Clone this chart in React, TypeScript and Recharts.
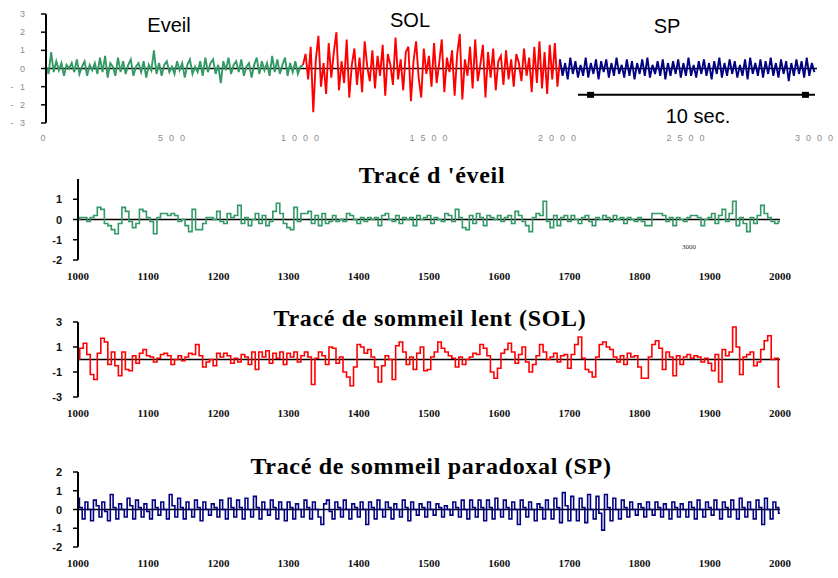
import { LineChart, Line, XAxis, YAxis, ReferenceLine, ReferenceDot } from "recharts";

// ---- overview trace, 0 - 3000 (one value every 10 samples) ----
const overviewTicks = [0, 500, 1000, 1500, 2000, 2500, 3000];
const overviewYTicks = [-3, -2, -1, 0, 1, 2, 3];

const eveilTop = [
    0.1, -0.3, 0.9, -0.2, 0.4, -0.1, 0.3, -0.4, 0.2, 0.0,
    0.3, -0.2, 0.5, -0.3, 0.1, 0.4, -0.4, 0.2, -0.1, 0.3,
    -0.3, 0.6, -0.2, 0.7, -0.5, 0.3, 0.1, -0.4, 0.6, -0.2,
    0.4, -0.3, 0.2, 0.5, -0.4, 0.1, 0.3, -0.2, 0.4, -0.5,
    0.2, -0.1, 1.0, -0.3, 0.3, -0.4, 0.2, 0.4, -0.2, 0.1,
    -0.3, 0.4, -0.1, 0.3, -0.5, 0.2, 0.5, -0.3, 0.1, -0.2,
    0.4, -0.4, 0.6, -0.2, 0.3, 0.5, -0.3, 0.2, -0.8, 0.4,
    -0.1, 0.6, -0.3, 0.2, 0.4, -0.2, 0.5, -0.4, 0.1, 0.3,
    -0.5, 0.2, 0.6, -0.3, 0.4, -0.1, 0.3, -0.4, 0.7, -0.2,
    0.5, -0.3, 0.2, 0.6, -0.4, 0.3, -0.2, 0.4, -0.3, 0.1,
];

const solTop = [
    0.2, 0.8, -0.6, 1.2, -2.4, 0.5, 1.8, -1.0, 0.3, -1.4,
    1.4, -0.5, 0.9, 2.0, -1.2, 0.4, -0.8, 1.6, -1.6, 0.2,
    1.1, -0.9, 0.6, -1.3, 1.5, 0.1, -0.7, 1.0, -1.1, 0.7,
    -0.4, 1.3, -1.5, 0.8, 0.2, -0.9, 1.7, -0.6, 0.5, -1.2,
    0.9, 1.2, -1.8, 0.4, 1.5, -0.5, -1.6, 1.1, -0.3, 0.7,
    -1.0, 1.4, -0.8, 0.3, 1.6, -1.3, 0.6, -0.2, 1.0, -1.5,
    0.8, 1.9, -1.7, 0.5, -0.4, 1.2, -1.1, 1.6, -0.7, 0.2,
    1.3, -1.6, 0.9, -0.5, 1.1, -1.2, 0.4, 0.7, -0.9, 1.0,
    -0.6, 0.5, -1.0, 0.8, 0.3, -0.7, 1.1, -0.4, 0.6, -1.3,
    1.2, -0.8, 1.5, -1.1, 0.9, -1.4, 1.3, -0.6, 1.4, -1.0,
];

const spTop = [
    0.5, -0.4, 0.3, -0.6, 0.6, -0.3, 0.4, -0.5, 0.2, -0.4,
    0.6, -0.5, 0.3, -0.3, 0.5, -0.6, 0.4, -0.2, 0.5, -0.5,
    0.3, -0.4, 0.6, -0.3, 0.2, -0.5, 0.5, -0.4, 0.4, -0.6,
    0.3, -0.3, 0.5, -0.4, 0.6, -0.5, 0.2, -0.3, 0.4, -0.4,
    0.5, -0.6, 0.3, -0.4, 0.4, -0.3, 0.5, -0.5, 0.3, -0.4,
    0.6, -0.4, 0.2, -0.5, 0.4, -0.3, 0.5, -0.4, 0.3, -0.6,
    0.4, -0.3, 0.6, -0.5, 0.3, -0.4, 0.5, -0.3, 0.4, -0.5,
    0.2, -0.4, 0.5, -0.6, 0.6, -0.3, 0.3, -0.4, 0.5, -0.5,
    0.4, -0.3, 0.6, -0.4, 0.3, -0.5, 0.5, -0.3, 0.4, -0.7,
    0.3, -0.4, 0.5, -0.3, 0.4, -0.5, 0.6, -0.4, 0.3, -0.2,
];

// "10 sec." scale bar, in data units of the overview
const scaleBarY = -1.45;
const scaleBarFrom = 2070;
const scaleBarTo = 2992;
const scaleBarEnds = [2117, 2953];

// ---- zoomed traces, 1000 - 2000 ----
const zoomTicks = [1000, 1100, 1200, 1300, 1400, 1500, 1600, 1700, 1800, 1900, 2000];

// every 5 samples
const eveilZoom = [
    0.0, 0.1, 0.1, -0.1, 0.1, 0.2, 0.6, 0.5, -0.2, -0.3,
    -0.5, -0.7, -0.2, 0.6, 0.4, -0.1, -0.4, -0.2, 0.5, 0.4,
    0.1, -0.1, -0.7, 0.1, 0.3, 0.3, 0.2, 0.3, 0.2, -0.1,
    0.0, -0.3, -0.6, 0.5, -0.5, -0.5, -0.2, 0.1, 0.1, 0.0,
    0.4, -0.1, -0.2, 0.3, 0.1, 0.2, 0.7, -0.2, 0.1, -0.3,
    0.0, 0.3, -0.2, 0.2, -0.3, -0.1, 0.4, 0.8, 0.3, -0.2,
    -0.4, -0.5, 0.6, -0.1, 0.3, 0.3, 0.4, -0.2, 0.2, -0.3,
    0.3, -0.2, -0.1, 0.2, -0.1, 0.0, -0.1, 0.3, 0.2, 0.0,
    -0.2, 0.1, -0.1, 0.1, 0.0, 0.1, -0.3, 0.2, 0.3, 0.0,
    -0.1, 0.2, -0.2, 0.1, 0.0, 0.1, -0.3, 0.2, 0.0, 0.1,
    0.2, -0.2, 0.1, 0.0, -0.1, 0.3, 0.2, -0.1, 0.5, 0.1,
    -0.4, -0.5, 0.2, -0.2, 0.3, 0.1, -0.3, 0.2, 0.1, 0.0,
    0.2, -0.1, 0.1, 0.2, -0.2, 0.4, 0.2, -0.1, -0.3, -0.6,
    0.1, 0.3, 0.2, 0.9, -0.1, -0.4, 0.2, -0.3, 0.1, 0.2,
    -0.1, 0.2, 0.0, -0.2, 0.1, 0.2, -0.1, -0.3, 0.1, 0.0,
    0.2, 0.1, -0.1, 0.2, 0.0, 0.1, -0.2, 0.1, 0.0, -0.1,
    0.1, -0.1, -0.3, -0.3, 0.3, 0.3, 0.3, 0.2, -0.1, 0.1,
    -0.3, 0.1, 0.0, -0.1, 0.1, 0.2, 0.2, 0.1, -0.3, 0.0,
    0.1, 0.3, -0.2, 0.2, 0.5, -0.1, 0.3, 0.9, -0.3, 0.1,
    -0.2, -0.6, 0.1, -0.2, 0.2, 0.7, 0.3, 0.1, -0.1, -0.2,
    -0.1,
];

// every 5 samples
const solZoom = [
    0.0, 0.9, 1.3, 0.4, -1.2, -1.6, 0.5, 1.7, 1.4, -0.4,
    0.6, -0.5, -1.3, 0.6, -0.8, -0.9, 0.3, -0.3, 0.5, 0.8,
    0.3, 0.2, -0.2, 0.1, 0.4, 0.5, 0.3, -0.4, 0.0, 0.3,
    -0.1, 0.2, 0.5, 0.4, 1.2, 0.3, -0.6, -0.2, 0.0, -0.5,
    0.5, 0.2, 0.5, 0.3, -0.3, 0.1, -0.2, 0.4, 0.2, -0.4,
    0.6, -0.8, 0.6, 0.2, 0.7, -0.3, 0.5, 0.1, 0.6, -0.4,
    0.5, 0.2, 0.6, -0.2, 0.3, 0.6, 0.2, -2.0, 0.1, 0.6,
    0.3, -0.4, 1.0, 0.9, -0.3, 0.2, -1.0, -1.4, -2.1, -0.6,
    1.2, 1.0, 0.5, 0.8, 0.2, -0.6, -1.8, -0.5, 0.3, 0.0,
    -1.6, 1.1, 1.4, 0.6, -0.4, 0.2, -0.8, 0.5, 1.0, -0.9,
    -0.8, 0.2, 0.6, 1.4, 0.9, 0.6, 0.3, 0.1, -0.6, 0.2,
    -0.4, 0.0, 0.2, 0.5, 0.4, 1.2, 0.9, 0.3, -1.0, -1.5,
    -0.7, 0.5, 0.8, 1.3, 0.6, -0.3, 0.4, 1.0, -0.2, -1.0,
    -0.4, 0.3, 1.2, 0.6, 0.0, 0.2, 0.5, -0.2, 0.3, 0.4,
    -0.7, 0.4, 1.2, 1.8, 0.1, -0.8, -1.0, -1.4, 0.2, 1.2,
    1.4, 1.0, 0.8, 0.2, -0.2, 0.3, -0.4, 0.5, 0.2, 0.3,
    -0.6, -1.5, -1.5, 0.2, 1.2, 1.5, 0.9, -0.8, 0.6, 0.2,
    -1.3, 0.3, -0.4, 0.2, 0.4, 0.1, 0.3, 0.2, -0.2, 0.1,
    -0.3, -0.9, 0.4, -1.8, 0.8, 0.3, 0.6, 2.6, 1.0, -1.2,
    0.2, 0.4, 0.6, -0.5, -0.2, 0.8, 1.5, 1.9, 0.0, 0.1,
    -2.2,
];

// every 4 samples
const spZoom = [
    0.6, 0.1, -0.5, 0.4, 0.0, -0.6, 0.5, 0.2, -0.4, 0.4, -0.1, -0.6,
    0.8, 0.1, -0.5, 0.3, 0.0, -0.4, 0.6, 0.2, -0.5, 0.5, 0.1, -0.4,
    0.3, -0.1, -0.5, 0.5, 0.1, -0.3, 0.4, 0.0, -0.5, 0.8, 0.2, -0.4,
    0.6, 0.1, -0.5, 0.4, 0.0, -0.4, 0.5, 0.1, -0.6, 0.4, 0.0, -0.3,
    0.3, 0.1, -0.4, 0.5, 0.0, -0.5, 0.6, 0.1, -0.4, 0.5, 0.1, -0.5,
    0.6, 0.0, -0.4, 0.7, 0.1, -0.5, 0.4, 0.0, -0.3, 0.5, 0.1, -0.5,
    0.4, 0.0, -0.6, 0.4, 0.1, -0.5, 0.3, 0.0, -0.4, 0.5, 0.1, -0.5,
    0.4, 0.0, -0.4, -0.8, 0.3, 0.5, -0.1, -0.5, 0.4, 0.1, -0.4, 0.5,
    0.0, -0.5, 0.3, 0.1, -0.4, 0.4, 0.0, -0.8, 0.4, 0.1, -0.5, 0.5,
    0.0, -0.4, 0.4, 0.1, -0.5, 0.3, 0.0, -0.4, 0.5, 0.1, -0.6, 0.4,
    0.0, -0.3, 0.3, 0.1, -0.4, 0.4, 0.0, -0.3, 0.3, 0.1, -0.4, 0.2,
    0.0, -0.3, 0.4, 0.1, -0.4, 0.5, 0.0, -0.5, 0.5, 0.1, -0.4, 0.5,
    0.1, -0.6, 0.5, 0.1, -0.5, 0.6, 0.0, -0.4, 0.5, 0.1, -0.5, 0.4,
    0.0, -0.8, 0.5, 0.1, -0.4, 0.4, 0.0, -0.6, 0.3, 0.1, -0.5, 0.5,
    0.0, -0.5, 0.6, 0.1, -0.7, 0.9, 0.2, -0.6, 0.7, 0.0, -0.6, 0.6,
    0.1, -0.7, 0.8, 0.0, -0.5, 0.7, -0.2, -1.1, 0.8, 0.1, -0.6, 0.6,
    0.0, -0.5, 0.5, 0.1, -0.4, 0.4, 0.0, -0.3, 0.3, 0.1, -0.4, 0.4,
    0.0, -0.3, 0.4, 0.1, -0.4, 0.3, 0.0, -0.5, 0.4, 0.1, -0.4, 0.3,
    0.0, -0.4, 0.4, 0.1, -0.5, 0.5, 0.0, -0.4, 0.4, 0.1, -0.3, 0.5,
    0.0, -0.5, 0.4, 0.1, -0.4, 0.5, 0.0, -0.5, 0.6, 0.1, -0.4, 0.4,
    0.0, -0.5, 0.5, 0.1, -0.8, 0.6, 0.0, -0.5, 0.4, 0.1, -0.2,
];

const GREEN = "#339966";
const RED = "#ff0000";
const NAVY = "#000080";

// overview rows; first point of the next stage is repeated so the trace is continuous
const overviewData = [
    ...eveilTop.map((v, i) => ({ x: i * 10, eveil: v })),
    ...solTop.map((v, i) => (i === 0 ? { x: 1000, sol: v, eveil: v } : { x: 1000 + i * 10, sol: v })),
    ...spTop.map((v, i) => (i === 0 ? { x: 2000, sp: v, sol: v } : { x: 2000 + i * 10, sp: v })),
];

const toRows = (values: number[], step: number) => values.map((v, i) => ({ x: 1000 + i * step, v }));

const OverviewXTick = ({ x, y, payload }: any) => (
    <text x={x} y={y} dy={7} textAnchor="middle" fontSize={9} fill="#8c8c8c"
        fontFamily="Liberation Sans, Arial" style={{ letterSpacing: 6 }}>
        {payload.value}
    </text>
);

const OverviewYTick = ({ x, y, payload }: any) => (
    <text x={x} y={y} dy={3} textAnchor="end" fontSize={9} fill="#8c8c8c"
        fontFamily="Liberation Sans, Arial" style={{ letterSpacing: 2 }}>
        {payload.value < 0 ? `- ${-payload.value}` : payload.value}
    </text>
);

const ZoomXTick = ({ x, y, payload }: any) => (
    <text x={x} y={y} dy={8} textAnchor="middle" fontSize={11} fontWeight="bold" fill="#111"
        fontFamily="Liberation Serif, serif">
        {payload.value}
    </text>
);

const ZoomYTick = ({ x, y, payload }: any) => (
    <text x={x} y={y} dy={4} textAnchor="end" fontSize={11} fontWeight="bold" fill="#111"
        fontFamily="Liberation Sans, Arial">
        {payload.value}
    </text>
);

const ScaleEnd = ({ cx, cy }: any) => <rect x={cx - 3} y={cy - 3} width={7} height={6} fill="#000" />;

interface PanelProps {
    plotTop: number;
    plotHeight: number;
    data: { x: number; v: number }[];
    color: string;
    domain: [number, number];
    yTicks: number[];
}

function TracePanel({ plotTop, plotHeight, data, color, domain, yTicks }: PanelProps) {
    const marginTop = 20;
    return (
        <div style={{ position: "absolute", left: 0, top: plotTop - marginTop }}>
            <LineChart width={838} height={plotHeight + marginTop + 30} data={data}
                margin={{ top: marginTop, right: 58, left: 0, bottom: 0 }}>
                <XAxis dataKey="x" type="number" domain={[1000, 2000]} ticks={zoomTicks} interval={0}
                    axisLine={false} tickLine={false} height={30} tickSize={6} tickMargin={6} tick={<ZoomXTick />} />
                <YAxis type="number" domain={domain} ticks={yTicks} interval={0} width={78}
                    axisLine={{ stroke: "#000", strokeWidth: 2 }} tickLine={{ stroke: "#000", strokeWidth: 1.5 }}
                    tickSize={5} tickMargin={11} tick={<ZoomYTick />} />
                <ReferenceLine y={0} stroke="#000" strokeWidth={1.5} />
                <Line type="step" dataKey="v" stroke={color} strokeWidth={1.6} dot={false} isAnimationActive={false} />
            </LineChart>
        </div>
    );
}

const titleFont = { fontFamily: "Liberation Serif, Times New Roman, serif", fontWeight: "bold", fontSize: 24, letterSpacing: 0.7 } as const;
const labelFont = { fontFamily: "Liberation Sans, Arial, sans-serif", fontSize: 20 } as const;

export default function App() {
    return (
        <div style={{ position: "absolute", left: 0, top: 0, width: 838, height: 578, background: "#fff" }}>
            <div style={{ position: "absolute", left: 0, top: 0 }}>
                <LineChart width={838} height={150} data={overviewData} margin={{ top: 14, right: 21, left: 0, bottom: 0 }}>
                    <XAxis dataKey="x" type="number" domain={[0, 3000]} ticks={overviewTicks} interval={0}
                        axisLine={false} tickLine={false} height={27} tickSize={6} tickMargin={5} tick={<OverviewXTick />} />
                    <YAxis type="number" domain={[-3, 3]} ticks={overviewYTicks} interval={0} width={46}
                        axisLine={{ stroke: "#000", strokeWidth: 2 }} tickLine={{ stroke: "#000", strokeWidth: 1.5 }}
                        tickSize={5} tickMargin={14} tick={<OverviewYTick />} />
                    <ReferenceLine y={0} stroke="#000" strokeWidth={1.5} />
                    <Line type="linear" dataKey="eveil" stroke={GREEN} strokeWidth={1.9} dot={false} isAnimationActive={false} />
                    <Line type="linear" dataKey="sol" stroke={RED} strokeWidth={1.9} dot={false} isAnimationActive={false} />
                    <Line type="linear" dataKey="sp" stroke={NAVY} strokeWidth={1.9} dot={false} isAnimationActive={false} />
                    <ReferenceLine segment={[{ x: scaleBarFrom, y: scaleBarY }, { x: scaleBarTo, y: scaleBarY }]}
                        stroke="#000" strokeWidth={2} />
                    {scaleBarEnds.map((x) => (
                        <ReferenceDot key={x} x={x} y={scaleBarY} r={3} shape={<ScaleEnd />} />
                    ))}
                </LineChart>
            </div>

            <TracePanel plotTop={179} plotHeight={81} data={toRows(eveilZoom, 5)} color={GREEN}
                domain={[-2, 2]} yTicks={[-2, -1, 0, 1]} />
            <TracePanel plotTop={322} plotHeight={75} data={toRows(solZoom, 5)} color={RED}
                domain={[-3, 3]} yTicks={[-3, -1, 1, 3]} />
            <TracePanel plotTop={472} plotHeight={75} data={toRows(spZoom, 4)} color={NAVY}
                domain={[-2, 2]} yTicks={[-2, -1, 0, 1, 2]} />

            <svg width={838} height={578} style={{ position: "absolute", left: 0, top: 0, pointerEvents: "none" }}>
                <text x={169} y={32} textAnchor="middle" {...labelFont}>Eveil</text>
                <text x={410} y={27} textAnchor="middle" {...labelFont}>SOL</text>
                <text x={667} y={33} textAnchor="middle" {...labelFont}>SP</text>
                <text x={698} y={123} textAnchor="middle" {...labelFont}>10 sec.</text>

                <text x={432} y={183} textAnchor="middle" {...titleFont}>Tracé d 'éveil</text>
                <text x={430} y={326} textAnchor="middle" {...titleFont}>Tracé de sommeil lent (SOL)</text>
                <text x={431} y={474} textAnchor="middle" {...titleFont}>Tracé de sommeil paradoxal (SP)</text>

                <text x={689} y={249} textAnchor="middle" fontSize={7} fill="#333" fontFamily="Liberation Serif, serif">3000</text>
            </svg>
        </div>
    );
}
